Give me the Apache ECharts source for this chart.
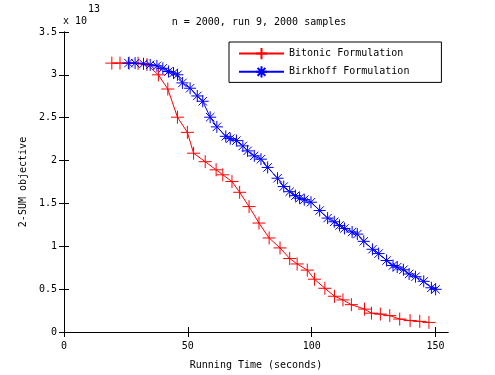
<!DOCTYPE html>
<html><head><meta charset="utf-8">
<script src="https://cdn.jsdelivr.net/npm/echarts@6/dist/echarts.min.js"></script>
<style>html,body{margin:0;padding:0;background:#fff}#c{width:495px;height:375px}</style>
</head><body><div id="c"></div>
<script>
// values in units of 1e13
const bitonicX = [19.3,22.6,26.3,29.9,33.5,38.1,41.9,45.8,49.8,52.3,57.0,61.4,64.1,67.8,70.9,74.7,78.7,82.8,87.2,91.1,94.1,98.2,101.1,105.3,109.2,112.6,116.0,121.3,124.1,127.7,131.5,135.5,139.7,143.6,147.3];
const bitonicY = [3.137,3.137,3.137,3.135,3.12,3.0,2.835,2.506,2.329,2.086,1.987,1.892,1.834,1.755,1.630,1.463,1.271,1.097,0.981,0.857,0.794,0.722,0.616,0.510,0.417,0.374,0.319,0.267,0.220,0.209,0.191,0.151,0.133,0.124,0.112];
const birkhoffX = [26.0,28.7,32.1,34.8,37.5,39.9,42.2,44.2,45.8,47.8,50.9,53.8,56.0,59.0,61.7,65.3,67.1,69.6,72.2,74.1,76.8,79.5,82.2,86.2,88.7,91.1,93.4,95.1,97.0,99.7,103.2,106.4,109.1,111.2,113.2,116.3,118.4,121.0,124.5,127.0,130.2,132.8,134.5,137.0,139.3,141.9,145.2,148.3,150.0];
const birkhoffY = [3.137,3.137,3.129,3.117,3.105,3.076,3.039,3.021,3.001,2.906,2.844,2.754,2.692,2.506,2.393,2.283,2.256,2.233,2.171,2.113,2.055,2.016,1.920,1.794,1.697,1.637,1.591,1.561,1.544,1.514,1.417,1.329,1.286,1.243,1.208,1.167,1.142,1.058,0.965,0.915,0.834,0.776,0.757,0.726,0.677,0.645,0.591,0.516,0.498];
const xTicks = [0,50,100,150];
const seriesNames = ['Bitonic Formulation','Birkhoff Formulation'];
const titleText = 'n = 2000, run 9, 2000 samples';
const xName = 'Running Time (seconds)';
const yName = '2-SUM objective';

const F = 'DejaVu Sans Mono';
const pair = (xs, ys) => xs.map((x, i) => [x, ys[i]]);
const plusPath = 'path://M0,-10L0,10M-10,0L10,0';
const starPath = 'path://M0,-10L0,10M-10,0L10,0M-7,-7L7,7M-7,7L7,-7';

const axisCommon = {
  axisLine: {show: true, lineStyle: {color: '#000', width: 1}},
  axisTick: {show: true, inside: true, length: 5, lineStyle: {color: '#000'}},
  splitLine: {show: false},
};

const chart = echarts.init(document.getElementById('c'), null, {renderer: 'canvas'});
chart.setOption({
  animation: false,
  backgroundColor: '#fff',
  title: {text: titleText, left: 254, top: 12, textAlign: 'center',
    textStyle: {fontFamily: F, fontSize: 10, fontWeight: 'normal', color: '#000'}},
  grid: {left: 64, right: 47, top: 32, bottom: 41},
  legend: {
    orient: 'vertical', left: 229, top: 42,
    padding: [5, 32, 4, 9], itemGap: 5, itemWidth: 45, itemHeight: 14,
    borderColor: '#000', borderWidth: 1, backgroundColor: '#fff',
    textStyle: {fontFamily: F, fontSize: 10, color: '#000'},
    data: seriesNames
  },
  xAxis: [
    Object.assign({type: 'value', min: 0, max: 155, position: 'bottom',
      name: xName, nameLocation: 'middle', nameGap: 28,
      nameTextStyle: {fontFamily: F, fontSize: 10, color: '#000'},
      axisLabel: {customValues: xTicks, margin: 9, fontFamily: F, fontSize: 10, color: '#000'}},
      axisCommon, {axisTick: Object.assign({}, axisCommon.axisTick, {customValues: xTicks})}),
    Object.assign({type: 'value', min: 0, max: 155, position: 'top',
      axisLabel: {show: false}}, axisCommon,
      {axisTick: Object.assign({}, axisCommon.axisTick, {customValues: xTicks})})
  ],
  yAxis: [
    Object.assign({type: 'value', min: 0, max: 3.5, interval: 0.5, position: 'left',
      name: yName, nameLocation: 'middle', nameGap: 27,
      nameTextStyle: {fontFamily: F, fontSize: 10, color: '#000'},
      axisLabel: {margin: 7, fontFamily: F, fontSize: 10, color: '#000'}}, axisCommon),
    Object.assign({type: 'value', min: 0, max: 3.5, interval: 0.5, position: 'right',
      axisLabel: {show: false}}, axisCommon)
  ],
  graphic: [
    {type: 'text', left: 63, top: 16, style: {text: 'x 10', font: '10px ' + F, fill: '#000'}},
    {type: 'text', left: 88, top: 4, style: {text: '13', font: '10px ' + F, fill: '#000'}}
  ],
  series: [
    {name: seriesNames[0], type: 'line', data: pair(bitonicX, bitonicY),
      symbol: plusPath, symbolSize: 13, showAllSymbol: true,
      lineStyle: {color: '#ff0000', width: 1},
      itemStyle: {color: 'rgba(0,0,0,0)', borderColor: '#ff0000', borderWidth: 1}},
    {name: seriesNames[1], type: 'line', data: pair(birkhoffX, birkhoffY),
      symbol: starPath, symbolSize: 12, showAllSymbol: true,
      lineStyle: {color: '#0000ff', width: 1},
      itemStyle: {color: 'rgba(0,0,0,0)', borderColor: '#0000ff', borderWidth: 1}}
  ]
});
</script></body></html>
